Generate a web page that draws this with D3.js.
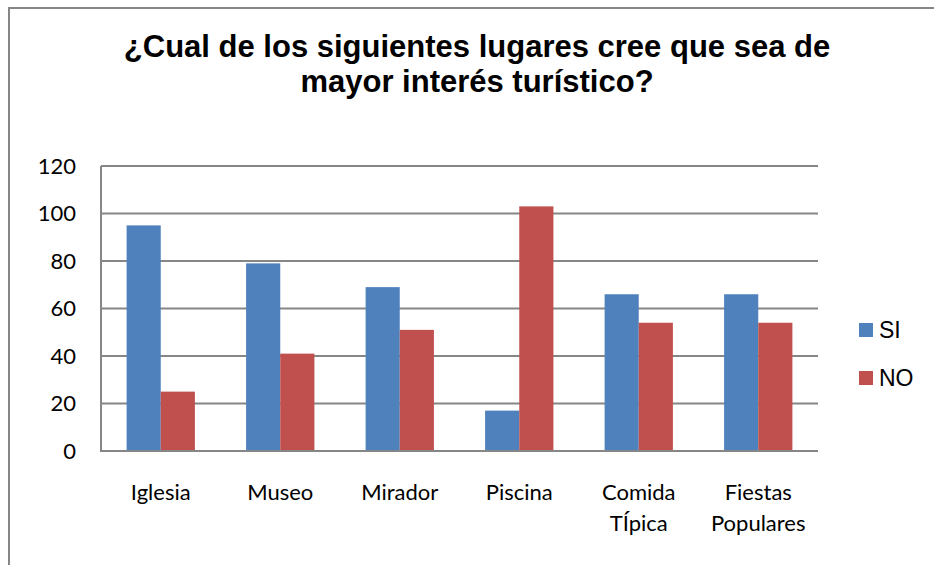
<!DOCTYPE html>
<html>
<head>
<meta charset="utf-8">
<script src="https://cdn.jsdelivr.net/npm/d3@7"></script>
<style>
  body { margin: 0; background: #fff; }
  svg { display: block; }
  .arial { font-family: "Liberation Sans", Arimo, Arial, Helvetica, sans-serif; }
  .calib { font-family: Lato, "Open Sans", sans-serif; }
</style>
</head>
<body>
<div id="chart"></div>
<script>
var categories = [["Iglesia"], ["Museo"], ["Mirador"], ["Piscina"], ["Comida", "TÍpica"], ["Fiestas", "Populares"]],
    seriesNames = ["SI", "NO"],
    siValues = [95, 79, 69, 17, 66, 66],
    noValues = [25, 41, 51, 103, 54, 54],
    yTicks = [0, 20, 40, 60, 80, 100, 120],
    titleLines = ["¿Cual de los siguientes lugares cree que sea de", "mayor interés turístico?"];

var width = 934,
    height = 565,
    plot = {left: 101, right: 818, top: 166, bottom: 451};

var color = d3.scaleOrdinal().domain(seriesNames).range(["#4F81BD", "#C0504D"]);

var svg = d3.select("#chart").append("svg")
  .attr("width", width)
  .attr("height", height);

// outer chart border (only top and left visible in the picture)
svg.append("path")
  .attr("d", "M9,565 V8 H934")
  .style("fill", "none")
  .style("stroke", "#868686")
  .style("stroke-width", 2);

// title
svg.append("g").selectAll("text")
  .data(titleLines)
  .enter().append("text")
  .attr("class", "arial")
  .attr("x", 477)
  .attr("y", function(d, i) { return 57 + i * 35; })
  .attr("text-anchor", "middle")
  .style("font-weight", "bold")
  .style("font-size", "31px")
  .style("fill", "#000")
  .text(function(d) { return d; });

var x0 = d3.scaleBand()
  .domain(d3.range(categories.length))
  .range([plot.left, plot.right])
  .paddingInner(0)
  .paddingOuter(0);

var x1 = d3.scaleBand()
  .domain(seriesNames)
  .range([0, x0.bandwidth()])
  .paddingInner(0)
  .paddingOuter(0.75);

var y = d3.scaleLinear()
  .domain([0, 120])
  .range([plot.bottom, plot.top]);

// gridlines
svg.append("g").selectAll("line")
  .data(yTicks.slice(1))
  .enter().append("line")
  .attr("x1", plot.left)
  .attr("x2", plot.right)
  .attr("y1", function(d) { return y(d); })
  .attr("y2", function(d) { return y(d); })
  .style("stroke", "#868686")
  .style("stroke-width", 2);

// bars
var data = categories.map(function(c, i) {
  return [{s: "SI", v: siValues[i]}, {s: "NO", v: noValues[i]}];
});

svg.append("g").selectAll("g")
  .data(data)
  .enter().append("g")
  .attr("transform", function(d, i) { return "translate(" + x0(i) + ",0)"; })
  .selectAll("rect")
  .data(function(d) { return d; })
  .enter().append("rect")
  .attr("x", function(d) { return x1(d.s); })
  .attr("width", x1.bandwidth())
  .attr("y", function(d) { return y(d.v); })
  .attr("height", function(d) { return y(0) - y(d.v); })
  .style("fill", function(d) { return color(d.s); });

// axes lines
svg.append("path")
  .attr("d", "M" + plot.left + "," + y(120) + " V" + plot.bottom + " H" + plot.right)
  .style("fill", "none")
  .style("stroke", "#868686")
  .style("stroke-width", 2);

// y tick labels
svg.append("g").selectAll("text")
  .data(yTicks)
  .enter().append("text")
  .attr("class", "calib")
  .attr("x", 76)
  .attr("y", function(d) { return y(d); })
  .attr("dy", "0.35em")
  .attr("text-anchor", "end")
  .style("font-size", "22px")
  .style("fill", "#000")
  .text(function(d) { return d; });

// category labels
var cat = svg.append("g").selectAll("text")
  .data(categories)
  .enter().append("text")
  .attr("class", "calib")
  .attr("text-anchor", "middle")
  .style("font-size", "22px")
  .style("fill", "#000")
  .attr("transform", function(d, i) { return "translate(" + (x0(i) + x0.bandwidth() / 2) + ",0)"; });

cat.selectAll("tspan")
  .data(function(d) { return d; })
  .enter().append("tspan")
  .attr("x", 0)
  .attr("y", function(d, i) { return 500 + i * 31; })
  .text(function(d) { return d; });

// legend
var legend = svg.append("g").selectAll("g")
  .data(seriesNames)
  .enter().append("g")
  .attr("transform", function(d, i) { return "translate(859," + (323 + i * 48) + ")"; });

legend.append("rect")
  .attr("width", 14)
  .attr("height", 14)
  .style("fill", color);

legend.append("text")
  .attr("class", "arial")
  .attr("x", 20)
  .attr("y", 7)
  .attr("dy", "0.35em")
  .style("font-size", "23px")
  .style("fill", "#000")
  .text(function(d) { return d; });
</script>
</body>
</html>
